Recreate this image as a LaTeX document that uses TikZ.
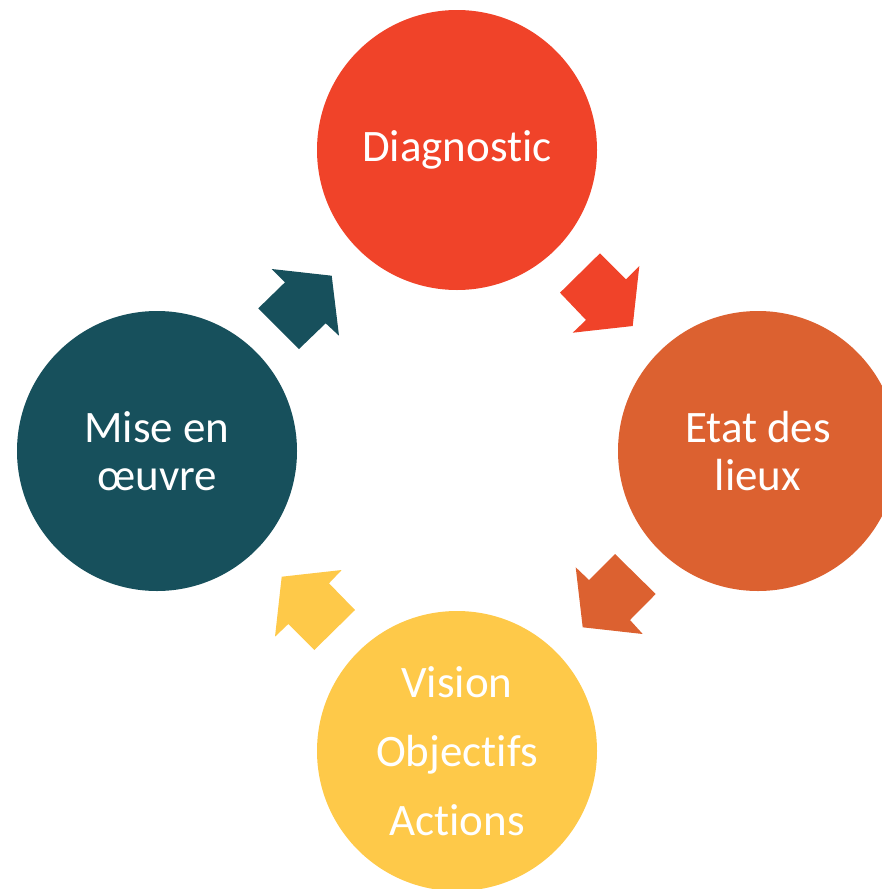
\documentclass[tikz,border=0pt]{standalone}
\usepackage{fontspec}
\setmainfont{Carlito}[RawFeature={-liga;-clig;-dlig;-calt;-rlig}]
\usepackage{tikz}
\definecolor{diagred}{HTML}{F04329}
\definecolor{etatorange}{HTML}{DC6130}
\definecolor{visionyellow}{HTML}{FEC949}
\definecolor{miseteal}{HTML}{17505C}
\begin{document}
\begin{tikzpicture}[x=1pt,y=-1pt]
\tikzstyle{etape}= [circle, inner sep=0pt, minimum size=280pt, text=white, align=center, font=\fontsize{45}{48}\selectfont]
\useasboundingbox (0,0) rectangle (882,889);
\clip (0,0) rectangle (882,889);
%cercles
\node[etape, fill=diagred] (diag) at (457,150) {Diagnostic};
\node[etape, fill=etatorange] (etat) at (758,451) {Etat des\\lieux};
\node[etape, fill=visionyellow, font=\fontsize{45}{69}\selectfont] (vision) at (457,751) {Vision\\Objectifs\\Actions};
\node[etape, fill=miseteal] (mise) at (157,451) {Mise en\\œuvre};
%fleches
\fill[diagred] (600,253.3) -- (626,279.3) -- (639.3,266) -- (632.7,326) -- (572.7,332.7) -- (586,320) -- (560,292.7) -- cycle;
\fill[etatorange] (615,554) -- (655.7,594) -- (630,620) -- (642.7,634) -- (582.7,627.3) -- (575.7,567.3) -- (589,580) -- cycle;
\fill[visionyellow] (341.7,570) -- (329,583.3) -- (355,610) -- (314.3,650) -- (288.3,624) -- (275,636.7) -- (281.7,576.7) -- cycle;
\fill[miseteal] (271.7,269) -- (331.7,275.7) -- (339,335.7) -- (325.7,323.3) -- (299,349) -- (258.3,308.3) -- (285,282.3) -- cycle;
\end{tikzpicture}
\end{document}
